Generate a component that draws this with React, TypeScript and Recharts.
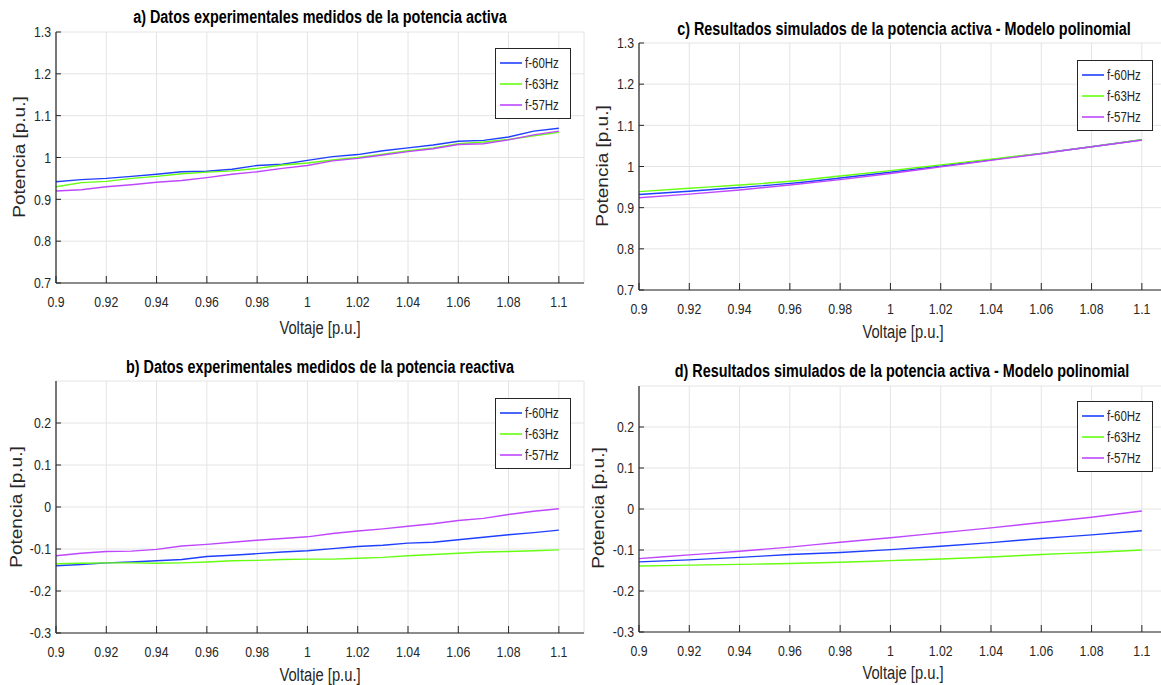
import { LineChart, Line, XAxis, YAxis, CartesianGrid, Legend } from "recharts";

const FONT = "'Liberation Sans', Arial, sans-serif";
const SQUEEZE = 0.82; // the figure is squeezed horizontally, so text looks narrow

// measured data (a, b)
const voltajeMed = [0.9, 0.91, 0.92, 0.93, 0.94, 0.95, 0.96, 0.97, 0.98, 0.99, 1.0, 1.01, 1.02, 1.03, 1.04, 1.05, 1.06, 1.07, 1.08, 1.09, 1.1];
const pMed60 = [0.942, 0.947, 0.95, 0.955, 0.96, 0.966, 0.967, 0.972, 0.981, 0.984, 0.993, 1.002, 1.007, 1.016, 1.023, 1.03, 1.039, 1.041, 1.049, 1.063, 1.07];
const pMed63 = [0.93, 0.94, 0.943, 0.95, 0.955, 0.961, 0.965, 0.968, 0.974, 0.982, 0.987, 0.994, 1.0, 1.008, 1.016, 1.023, 1.033, 1.037, 1.043, 1.052, 1.06];
const pMed57 = [0.92, 0.923, 0.93, 0.935, 0.941, 0.945, 0.952, 0.96, 0.966, 0.974, 0.981, 0.992, 0.998, 1.006, 1.014, 1.021, 1.031, 1.033, 1.042, 1.054, 1.063];
const qMed60 = [-0.14, -0.137, -0.133, -0.131, -0.128, -0.125, -0.118, -0.115, -0.111, -0.107, -0.104, -0.099, -0.094, -0.091, -0.086, -0.084, -0.078, -0.072, -0.066, -0.061, -0.055];
const qMed63 = [-0.135, -0.134, -0.133, -0.133, -0.134, -0.133, -0.131, -0.128, -0.127, -0.125, -0.124, -0.124, -0.122, -0.12, -0.116, -0.113, -0.11, -0.107, -0.106, -0.104, -0.102];
const qMed57 = [-0.116, -0.11, -0.106, -0.105, -0.101, -0.093, -0.089, -0.084, -0.079, -0.075, -0.071, -0.063, -0.057, -0.052, -0.046, -0.04, -0.032, -0.027, -0.018, -0.01, -0.004];

// simulated, polynomial model (c, d)
const voltajeSim = [0.9, 0.92, 0.94, 0.96, 0.98, 1.0, 1.02, 1.04, 1.06, 1.08, 1.1];
const pSim60 = [0.932, 0.94, 0.949, 0.959, 0.972, 0.986, 1.001, 1.016, 1.032, 1.048, 1.065];
const pSim63 = [0.939, 0.947, 0.955, 0.964, 0.977, 0.99, 1.004, 1.018, 1.032, 1.048, 1.065];
const pSim57 = [0.924, 0.933, 0.943, 0.955, 0.968, 0.983, 0.999, 1.015, 1.031, 1.048, 1.064];
const qSim60 = [-0.129, -0.124, -0.118, -0.111, -0.106, -0.099, -0.091, -0.082, -0.072, -0.063, -0.053];
const qSim63 = [-0.139, -0.137, -0.135, -0.133, -0.13, -0.126, -0.122, -0.117, -0.111, -0.106, -0.1];
const qSim57 = [-0.121, -0.112, -0.103, -0.093, -0.081, -0.07, -0.058, -0.046, -0.033, -0.02, -0.005];

const xTicks = [0.9, 0.92, 0.94, 0.96, 0.98, 1, 1.02, 1.04, 1.06, 1.08, 1.1];
const pTicks = [0.7, 0.8, 0.9, 1, 1.1, 1.2, 1.3];
const qTicks = [-0.3, -0.2, -0.1, 0, 0.1, 0.2];

const seriesNames = ["f-60Hz", "f-63Hz", "f-57Hz"];
const seriesColors = ["#1f3fff", "#66ff11", "#bf46ff"];

const rows = (x: number[], a: number[], b: number[], c: number[]) =>
  x.map((v, i) => ({ v, s0: a[i], s1: b[i], s2: c[i] }));

const fmt = (v: number) => String(parseFloat(v.toFixed(2)));

const panels = [
  {
    key: "a", left: 0, top: 0, height: 340, marginTop: 32, xh: 57,
    data: rows(voltajeMed, pMed60, pMed63, pMed57), yDomain: [0.7, 1.3], yTicks: pTicks, curve: "linear",
    title: "a) Datos experimentales medidos de la potencia activa",
    titleX: 320, titleY: 17, xlabX: 320, xlabY: 328, ylabX: 20, ylabY: 157, legX: 495, legY: 48,
  },
  {
    key: "c", left: 583, top: 0, height: 340, marginTop: 43, xh: 50,
    data: rows(voltajeSim, pSim60, pSim63, pSim57), yDomain: [0.7, 1.3], yTicks: pTicks, curve: "monotone",
    title: "c) Resultados simulados de la potencia activa - Modelo polinomial",
    titleX: 321, titleY: 29, xlabX: 320, xlabY: 332, ylabX: 20, ylabY: 166, legX: 494, legY: 60,
  },
  {
    key: "b", left: 0, top: 340, height: 345, marginTop: 41, xh: 52,
    data: rows(voltajeMed, qMed60, qMed63, qMed57), yDomain: [-0.3, 0.3], yTicks: qTicks, curve: "linear",
    title: "b) Datos experimentales medidos de la potencia reactiva",
    titleX: 320, titleY: 27, xlabX: 320, xlabY: 335, ylabX: 17, ylabY: 167, legX: 495, legY: 58,
  },
  {
    key: "d", left: 583, top: 340, height: 345, marginTop: 46, xh: 53,
    data: rows(voltajeSim, qSim60, qSim63, qSim57), yDomain: [-0.3, 0.3], yTicks: qTicks, curve: "monotone",
    title: "d) Resultados simulados de la potencia activa - Modelo polinomial",
    titleX: 319, titleY: 31, xlabX: 320, xlabY: 333, ylabX: 16, ylabY: 168, legX: 494, legY: 61,
  },
];

function LegendBox() {
  return (
    <div style={{ width: 76, boxSizing: "border-box", border: "1.5px solid #262626", background: "#fff", padding: "3px 4px" }}>
      {seriesNames.map((n, i) => (
        <div key={n} style={{ display: "flex", alignItems: "center", height: 21 }}>
          <svg width={29} height={4} style={{ marginRight: 3, display: "block" }}>
            <line x1={0} y1={2} x2={29} y2={2} stroke={seriesColors[i]} strokeWidth={1.6} />
          </svg>
          <span
            style={{
              display: "inline-block",
              fontFamily: FONT,
              fontSize: 14,
              color: "#262626",
              transform: `scaleX(${SQUEEZE})`,
              transformOrigin: "left center",
              whiteSpace: "nowrap",
            }}
          >
            {n}
          </span>
        </div>
      ))}
    </div>
  );
}

function Tick({ x, y, payload, textAnchor, verticalAnchor }: any) {
  const dy = verticalAnchor === "start" ? "0.71em" : "0.355em";
  return (
    <text
      x={0}
      y={0}
      dy={dy}
      transform={`translate(${x},${y}) scale(${SQUEEZE},1)`}
      textAnchor={textAnchor}
      fill="#262626"
      fontSize={15}
      fontFamily={FONT}
    >
      {fmt(payload.value)}
    </text>
  );
}

const center: any = { position: "absolute", whiteSpace: "nowrap", fontFamily: FONT };

function Panel(p: any) {
  return (
    <div style={{ position: "absolute", left: p.left, top: p.top, width: 600, height: p.height }}>
      <LineChart width={600} height={p.height} data={p.data} margin={{ top: p.marginTop, right: 16, bottom: 0, left: 0 }}>
        <CartesianGrid stroke="#e4e4e4" />
        <XAxis
          dataKey="v"
          type="number"
          domain={[0.9, 1.11]}
          ticks={xTicks}
          height={p.xh}
          tick={<Tick />}
          tickSize={-7}
          tickMargin={20}
          axisLine={{ stroke: "#262626", strokeWidth: 1.2 }}
          tickLine={{ stroke: "#262626" }}
        />
        <YAxis
          type="number"
          domain={p.yDomain}
          ticks={p.yTicks}
          width={56}
          tick={<Tick />}
          tickSize={-5}
          tickMargin={10}
          allowDataOverflow
          axisLine={{ stroke: "#262626", strokeWidth: 1.2 }}
          tickLine={{ stroke: "#262626" }}
        />
        <Legend
          layout="vertical"
          align="center"
          verticalAlign="middle"
          wrapperStyle={{ left: p.legX, top: p.legY, width: "auto" }}
          content={<LegendBox />}
        />
        {seriesNames.map((n, i) => (
          <Line
            key={n}
            type={p.curve}
            dataKey={`s${i}`}
            name={n}
            stroke={seriesColors[i]}
            strokeWidth={1.4}
            dot={false}
            isAnimationActive={false}
          />
        ))}
      </LineChart>
      <div
        style={{
          ...center,
          left: p.titleX,
          top: p.titleY,
          fontWeight: "bold",
          fontSize: 18,
          color: "#000",
          transform: `translate(-50%, -50%) scaleX(0.8)`,
        }}
      >
        {p.title}
      </div>
      <div
        style={{
          ...center,
          left: p.xlabX,
          top: p.xlabY,
          fontSize: 18,
          color: "#262626",
          transform: `translate(-50%, -50%) scaleX(${SQUEEZE})`,
        }}
      >
        Voltaje [p.u.]
      </div>
      <div
        style={{
          ...center,
          left: p.ylabX,
          top: p.ylabY,
          fontSize: 19,
          color: "#262626",
          transform: `translate(-50%, -50%) rotate(-90deg) scaleY(${SQUEEZE})`,
        }}
      >
        Potencia [p.u.]
      </div>
    </div>
  );
}

export default function App() {
  return (
    <div style={{ position: "absolute", left: 0, top: 0, width: 1161, height: 685, overflow: "hidden", background: "#fff" }}>
      {panels.map(({ key, ...p }) => (
        <Panel key={key} {...p} />
      ))}
    </div>
  );
}
